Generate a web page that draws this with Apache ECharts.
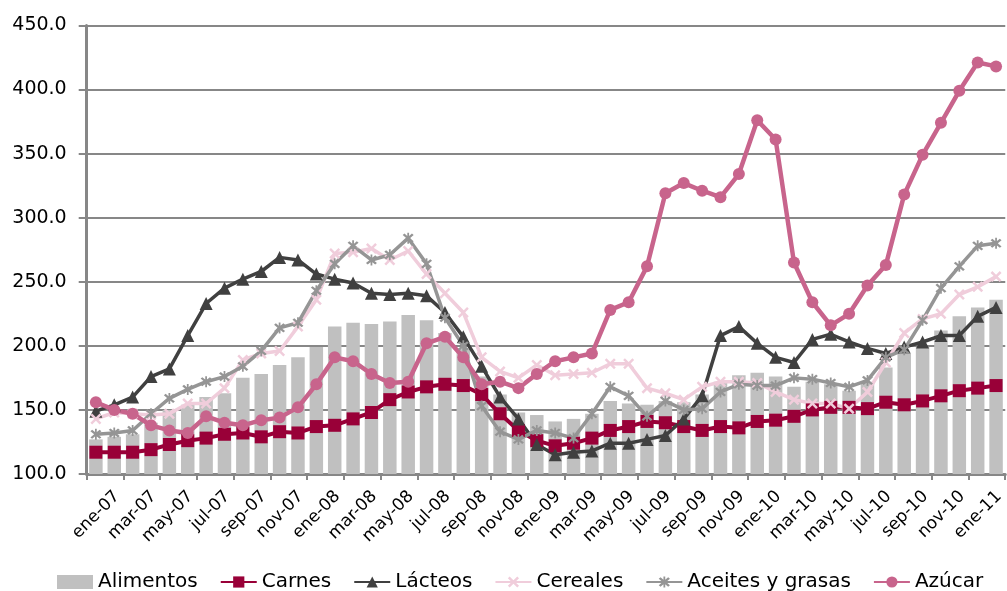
<!DOCTYPE html>
<html>
<head>
<meta charset="utf-8">
<script src="https://cdn.jsdelivr.net/npm/echarts@6/dist/echarts.min.js"></script>
<style>
  html, body { margin: 0; padding: 0; background: #fff; }
  #chart { width: 1007px; height: 591px; }
</style>
</head>
<body>
<div id="chart"></div>
<script>
// Monthly categories, ene-07 .. feb-11
const months = ['ene','feb','mar','abr','may','jun','jul','ago','sep','oct','nov','dic'];
const categories = [];
for (let y = 7; y <= 11; y++) {
  for (let m = 0; m < 12; m++) {
    if (y === 11 && m > 1) break;
    categories.push(months[m] + '-' + (y < 10 ? '0' + y : y));
  }
}

// Price indices (2002-2004 = 100)
const alimentos = [127,129,131,140,150,154,160,163,175,178,185,191,199,215,218,217,219,224,220,210,198,176,162,148,146,141,143,147,157,155,154,157,156,162,172,177,179,176,168,172,170,165,172,183,194,199,212,223,230,236];
const carnes = [117,117,117,119,123,126,128,131,132,129,133,132,137,138,143,148,158,164,168,170,169,162,147,134,126,122,124,128,134,137,141,140,137,134,137,136,141,142,145,150,152,152,151,156,154,157,161,165,167,169];
const lacteos = [149,154,160,176,182,208,233,245,252,258,269,267,256,252,249,241,240,241,239,226,207,184,160,143,123,115,117,118,124,124,127,130,143,161,208,215,202,191,187,205,209,203,198,194,199,203,208,208,223,230];
const cereales = [143,148,147,146,147,155,155,167,189,194,196,215,236,272,273,276,267,274,256,241,226,191,180,175,185,177,178,179,186,186,167,163,158,168,172,172,171,164,158,155,155,151,164,187,210,221,225,240,246,254];
const aceites = [131,132,134,147,159,166,172,176,184,196,214,218,243,264,278,267,271,284,264,222,200,153,133,127,134,132,128,147,168,161,145,157,150,151,164,170,169,169,175,174,171,168,173,191,197,220,245,262,278,280];
const azucar = [156,150,147,138,134,132,145,140,138,142,144,152,170,191,188,178,171,172,202,207,191,170,172,167,178,188,191,194,228,234,262,319,327,321,316,334,376,361,265,234,216,225,247,263,318,349,374,399,421,418];

const seriesNames = ['Alimentos','Carnes','Lácteos','Cereales','Aceites y grasas','Azúcar'];

// Marker shapes: a thick "x" and an "x" crossed by a vertical bar
const xMark = 'path://M0,1.6L1.6,0L5,3.4L8.4,0L10,1.6L6.6,5L10,8.4L8.4,10L5,6.6L1.6,10L0,8.4L3.4,5Z';
const starMark = 'path://M0,1.6L1.6,0L5,3.4L8.4,0L10,1.6L6.6,5L10,8.4L8.4,10L5,6.6L1.6,10L0,8.4L3.4,5Z M4.2,-1L5.8,-1L5.8,11L4.2,11Z';

const FONT = 'DejaVu Sans';

function lineSeries(name, data, color, symbol, size, width) {
  return {
    name: name,
    type: 'line',
    data: data,
    symbol: symbol,
    symbolSize: size,
    showAllSymbol: true,
    lineStyle: { color: color, width: width },
    itemStyle: { color: color, borderWidth: 0 },
    emphasis: { disabled: true },
    animation: false
  };
}

const chart = echarts.init(document.getElementById('chart'), null, { renderer: 'canvas' });
chart.setOption({
  backgroundColor: '#ffffff',
  animation: false,
  textStyle: { fontFamily: FONT },
  grid: { left: 86.7, top: 25.4, width: 922.5, height: 448.6, containLabel: false },
  legend: {
    left: 52,
    top: 567,
    itemGap: 22,
    itemWidth: 36,
    itemHeight: 14,
    textStyle: { fontFamily: FONT, fontSize: 20, color: '#000' },
    data: [
      { name: 'Alimentos', icon: 'rect', itemStyle: { color: '#c0c0c0' } },
      'Carnes', 'Lácteos', 'Cereales', 'Aceites y grasas', 'Azúcar'
    ]
  },
  xAxis: {
    type: 'category',
    data: categories,
    boundaryGap: true,
    axisLine: { lineStyle: { color: '#878787', width: 3 } },
    axisTick: { show: true, interval: 1, length: 6, lineStyle: { color: '#878787', width: 2 } },
    axisLabel: {
      interval: 1,
      rotate: 45,
      margin: 41,
      align: 'right',
      verticalAlign: 'middle',
      padding: [0, -30, 0, 0],
      fontFamily: FONT,
      fontSize: 17,
      color: '#000'
    },
    splitLine: { show: false }
  },
  yAxis: {
    type: 'value',
    min: 100,
    max: 450,
    interval: 50,
    axisLine: { show: true, lineStyle: { color: '#878787', width: 3 } },
    axisTick: { show: true, length: 8, lineStyle: { color: '#878787', width: 2 } },
    axisLabel: {
      margin: 20,
      fontFamily: FONT,
      fontSize: 19,
      color: '#000',
      formatter: v => v.toFixed(1)
    },
    splitLine: { show: true, lineStyle: { color: '#878787', width: 2 } }
  },
  series: [
    {
      name: 'Alimentos',
      type: 'bar',
      data: alimentos,
      barWidth: 13.5,
      itemStyle: { color: '#c0c0c0' },
      emphasis: { disabled: true },
      animation: false
    },
    lineSeries('Carnes', carnes, '#990038', 'rect', 13, 4),
    lineSeries('Lácteos', lacteos, '#404040', 'triangle', 13, 3.5),
    lineSeries('Cereales', cereales, '#f0cddb', xMark, 11, 3.5),
    lineSeries('Aceites y grasas', aceites, '#959595', starMark, 11, 3.5),
    lineSeries('Azúcar', azucar, '#c8648c', 'circle', 12, 4.5)
  ]
});
</script>
</body>
</html>
